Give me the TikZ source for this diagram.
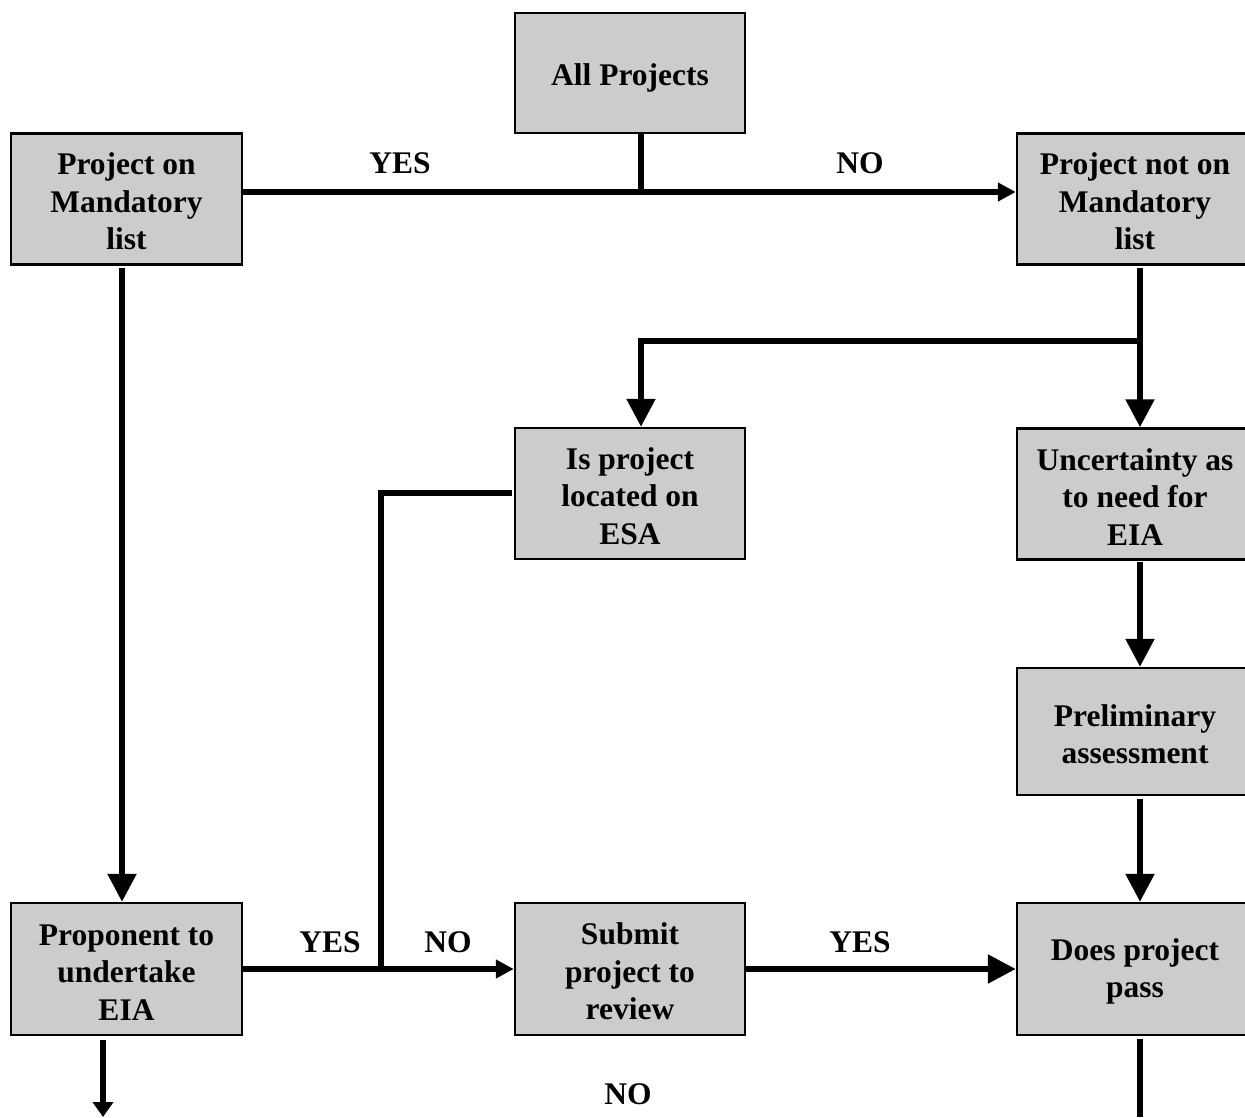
\documentclass[tikz,border=0pt]{standalone}
\usepackage{fontspec}
\setmainfont{Liberation Serif}
\usetikzlibrary{arrows.meta}
\definecolor{boxgray}{RGB}{204,204,204}
\begin{document}
\begin{tikzpicture}[x=1pt,y=-1pt,
  txt/.style={font=\fontsize{31.5}{37.5}\selectfont\bfseries},
  box/.style={txt, draw=black, fill=boxgray, line width=2.5pt,
    minimum width=231pt, minimum height=131pt, inner sep=0pt, align=center},
  % a little extra room above the text block to sit it slightly low in the box
  oneline/.style={text height=32pt},
  twolines/.style={text height=64.5pt},
  threelines/.style={text height=102pt},
  rightbox/.style={box, minimum width=236pt},
  link/.style={line width=5.5pt},
  bighead/.style={link, -{Triangle[length=28pt,width=28pt]}},
  smallhead/.style={link, -{Triangle[length=18pt,width=18pt]}},
  lbl/.style={txt, inner sep=0pt}]
\useasboundingbox (0,0) rectangle (1245,1117);

% boxes
\node[box, oneline, minimum width=230pt, minimum height=120pt] (allp) at (630,73) {All Projects};
\node[box, threelines] (mand)    at (126.5,199) {Project on\\Mandatory\\list};
\node[rightbox, threelines] (notmand) at (1135,199) {Project not on\\Mandatory\\list};
\node[box, threelines, minimum width=230pt] (esa)     at (630,493.5) {Is project\\located on\\ESA};
\node[rightbox, threelines] (unc)     at (1135,494) {Uncertainty as\\to need for\\EIA};
\node[rightbox, twolines, minimum height=127pt] (prel) at (1135,731.5) {Preliminary\\assessment};
\node[box, threelines, minimum height=132pt] (prop)    at (126.5,969) {Proponent to\\undertake\\EIA};
\node[box, threelines, minimum width=230pt, minimum height=132pt] (sub) at (630,969) {Submit\\project to\\review};
\node[rightbox, twolines, minimum height=132pt] (does) at (1135,969) {Does project\\pass};

% routing columns and junctions
\coordinate (lc) at (122,0);
\coordinate (mc) at (641,0);
\coordinate (rc) at (1140,0);
\coordinate (j1) at (641,192);
\coordinate (j2) at (1140,341);
\coordinate (j3) at (381,969);
\coordinate (esaturn) at (381,493);
\coordinate (propout) at (103,1040);
\coordinate (propend) at (103,1117);
\coordinate (doesend) at (1140,1117);

% connectors
\draw[link] (allp.south -| mc) -- (j1);
\draw[smallhead] (mand.east |- j1) -- (notmand.west |- j1);
\draw[bighead, shorten <=2pt] (mand.south -| lc) -- (prop.north -| lc);
\draw[link, shorten <=2pt] (notmand.south -| rc) -- (j2);
\draw[bighead] (j2) -- (j2 -| mc) -- (esa.north -| mc);
\draw[bighead] (j2) -- (unc.north -| rc);
\draw[bighead, shorten <=1pt] (unc.south -| rc) -- (prel.north -| rc);
\draw[bighead, shorten <=3pt] (prel.south -| rc) -- (does.north -| rc);
\draw[link, shorten <=2pt] (esa.west |- esaturn) -- (esaturn) -- (j3);
\draw[smallhead] (prop.east) -- (sub.west);
\draw[bighead] (sub.east) -- (does.west);
\draw[link, -{Triangle[length=15pt,width=20pt]}] (propout) -- (propend);
\draw[link, shorten <=3pt] (does.south -| rc) -- (doesend);

% branch labels
\node[lbl] (y1) at (400,163) {YES};
\node[lbl] (n1) at (860,163) {NO};
\node[lbl] (y2) at (330,942) {YES};
\node[lbl] (n2) at (448,942) {NO};
\node[lbl] (y3) at (860,942) {YES};
\node[lbl] (n3) at (628,1094) {NO};
\end{tikzpicture}
\end{document}
